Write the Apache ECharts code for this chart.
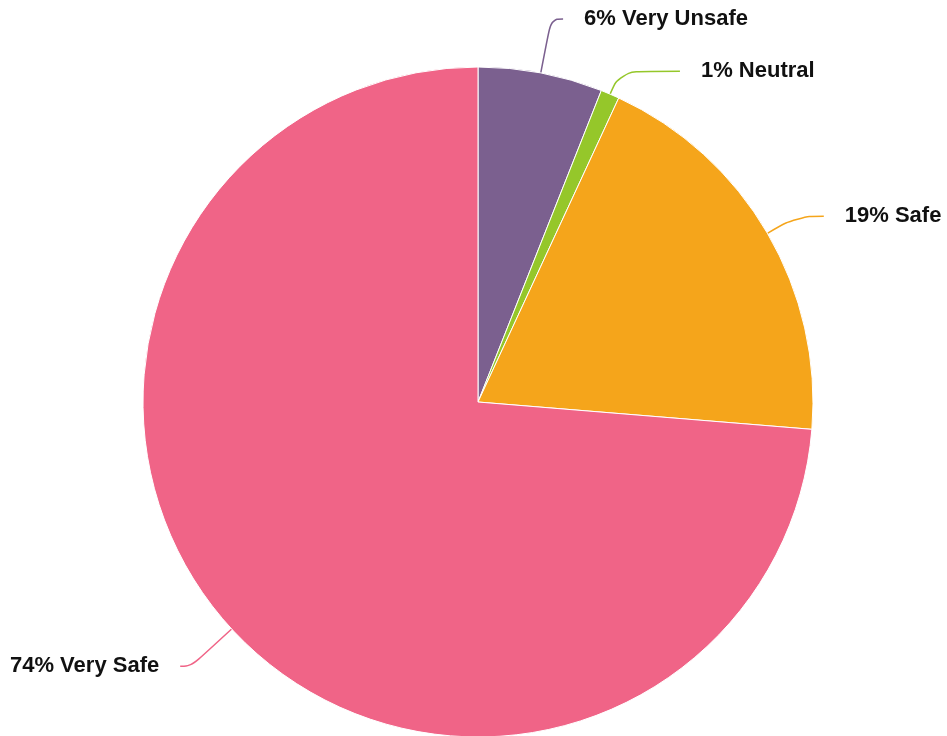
<!DOCTYPE html>
<html>
<head>
<meta charset="utf-8">
<script src="https://cdn.jsdelivr.net/npm/echarts@6/dist/echarts.min.js"></script>
<style>html,body{margin:0;padding:0;background:#fff;}#c{width:947px;height:736px;}</style>
</head>
<body>
<div id="c"></div>
<script>
const categories = ['Very Unsafe', 'Neutral', 'Safe', 'Very Safe'];
const values = [6.0, 0.9, 19.4, 73.7];
const labels = ['6%', '1%', '19%', '74%'];
const colors = ['#7b608f', '#95c72a', '#f5a51b', '#f06487'];
const lineLen = [55, 25, 34, 55];
const lineLen2 = [12, 60, 27, 11];

const chart = echarts.init(document.getElementById('c'));
chart.setOption({
  animation: false,
  series: [{
    type: 'pie',
    center: [478, 402],
    radius: [0, 335],
    startAngle: 90,
    clockwise: true,
    avoidLabelOverlap: false,
    itemStyle: { borderColor: '#ffffff', borderWidth: 1 },
    label: {
      show: true,
      formatter: function (p) { return labels[p.dataIndex] + ' ' + p.name; },
      fontFamily: 'Liberation Sans, Arial, sans-serif',
      fontWeight: 'bold',
      fontSize: 22,
      color: '#111',
      distanceToLabelLine: 21
    },
    labelLine: { show: true, smooth: 0.45, lineStyle: { width: 1.5 } },
    data: categories.map((c, i) => ({
      name: c, value: values[i],
      itemStyle: { color: colors[i] },
      labelLine: { length: lineLen[i], length2: lineLen2[i] }
    }))
  }]
});
</script>
</body>
</html>
